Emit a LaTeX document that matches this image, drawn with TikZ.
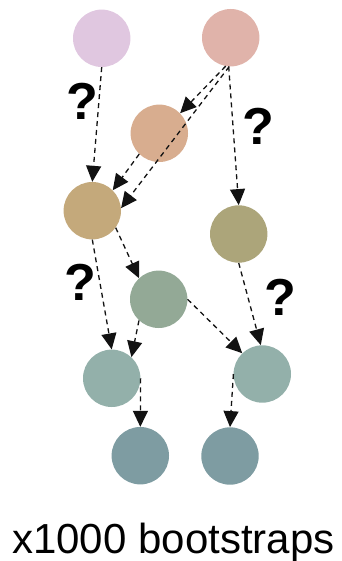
\documentclass[tikz,border=0pt]{standalone}
\usepackage{fontspec}
\setmainfont{Liberation Sans}
\usetikzlibrary{arrows.meta}
\definecolor{cA}{HTML}{E0C7E0}
\definecolor{cB}{HTML}{E0B3AA}
\definecolor{cC}{HTML}{D8AD8F}
\definecolor{cD}{HTML}{C4A97B}
\definecolor{cE}{HTML}{ACA57A}
\definecolor{cF}{HTML}{93A996}
\definecolor{cG}{HTML}{93B0AA}
\definecolor{cI}{HTML}{7E9CA2}
\begin{document}
\begin{tikzpicture}[x=1pt,y=-1pt,
  var/.style={circle,minimum size=57.4pt,inner sep=0pt,draw=none},
  link/.style={draw=black!93,line width=1.3pt,dash pattern=on 5pt off 4pt,
    -{Triangle[length=16pt,width=15pt]}},
  qmark/.style={inner sep=0pt,font=\fontsize{52}{52}\selectfont\bfseries},
  caption/.style={inner sep=0pt,anchor=base,font=\fontsize{42}{42}\selectfont}]
\useasboundingbox (0,0) rectangle (341,561);

% variables
\node[var,fill=cA] (A) at (101.7,38.3) {};
\node[var,fill=cB] (B) at (230.7,37.7) {};
\node[var,fill=cC] (C) at (159.3,133.3) {};
\node[var,fill=cD] (D) at (92.3,210.7) {};
\node[var,fill=cE] (E) at (238.7,234) {};
\node[var,fill=cF] (F) at (158.7,299.3) {};
\node[var,fill=cG] (G) at (111.7,378.3) {};
\node[var,fill=cG] (H) at (262.3,374) {};
\node[var,fill=cI] (I) at (140.3,455.7) {};
\node[var,fill=cI] (J) at (230,456) {};

% uncertain links
\node[qmark] (q1) at (82.3,101) {?};
\node[qmark] (q2) at (258.3,126) {?};
\node[qmark] (q3) at (80.7,282) {?};
\node[qmark] (q4) at (280,297) {?};

% bootstrapped edges
\draw[link] (A.-90) -- (D.90);
\draw[link] (B.-100) -- (C.44);
\draw[link] (B.-93) -- (D.5);
\draw[link] (C.226) -- (D.45);
\draw[link] (B.-94) -- (E.90);
\draw[link] (D.-36) -- (F.133);
\draw[link] (D.-90) -- (G.90);
\draw[link] (F.227) -- (G.47);
\draw[link] (F.0) -- (H.134);
\draw[link] (E.-90) -- (H.93);
\draw[link] (G.0) -- (I.90);
\draw[link] (H.180) -- (J.90);

\node[caption] (cap) at (173.4,553.3) {x1000 bootstraps};
\end{tikzpicture}
\end{document}
